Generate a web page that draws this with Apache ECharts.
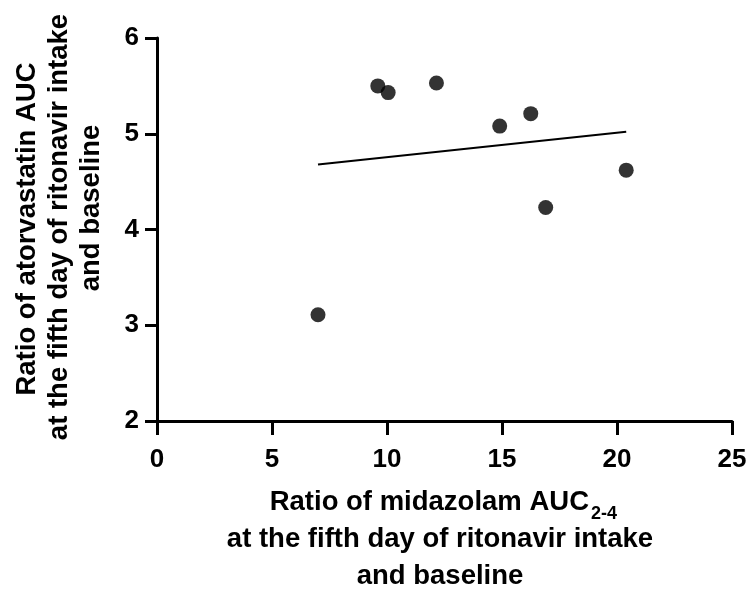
<!DOCTYPE html>
<html>
<head>
<meta charset="utf-8">
<script src="https://cdn.jsdelivr.net/npm/echarts@6/dist/echarts.min.js"></script>
<style>
html,body{margin:0;padding:0;background:#fff;}
#chart{width:751px;height:592px;}
</style>
</head>
<body>
<div id="chart"></div>
<script>
// Data
var midazolamRatio = [7.0, 9.6, 10.05, 12.15, 14.9, 16.25, 16.9, 20.4];
var atorvastatinRatio = [3.11, 5.50, 5.43, 5.53, 5.08, 5.21, 4.23, 4.62];
var fitX = [7.0, 20.4];
var fitY = [4.68, 5.02];
var xTicks = [0, 5, 10, 15, 20, 25];
var yTicks = [2, 3, 4, 5, 6];
var xTitleLines = ["Ratio of midazolam AUC", "2-4", "at the fifth day of ritonavir intake", "and baseline"];
var yTitleLines = ["Ratio of atorvastatin AUC", "at the fifth day of ritonavir intake", "and baseline"];

var points = midazolamRatio.map(function (x, i) { return [x, atorvastatinRatio[i]]; });
var fitLine = fitX.map(function (x, i) { return [x, fitY[i]]; });

var FONT = "'Liberation Sans', Arial, sans-serif";
var chart = echarts.init(document.getElementById('chart'), null, {renderer: 'canvas'});

var txt = function (text, x, y, size, align, rot) {
  return {
    type: 'text', x: x, y: y, rotation: rot || 0,
    style: {text: text, font: 'bold ' + size + 'px ' + FONT, fill: '#000',
      align: align, verticalAlign: 'middle'}
  };
};

chart.setOption({
  animation: false,
  backgroundColor: '#fff',
  grid: {left: 157, right: 19, top: 38, bottom: 171, containLabel: false},
  xAxis: {
    type: 'value', min: xTicks[0], max: xTicks[xTicks.length - 1], interval: 5,
    splitLine: {show: false},
    axisLine: {show: true, onZero: false, lineStyle: {color: '#000', width: 3}},
    axisTick: {show: true, length: 14, lineStyle: {color: '#000', width: 3}},
    axisLabel: {color: '#000', fontSize: 26, fontWeight: 'bold', fontFamily: FONT, margin: 26}
  },
  yAxis: {
    type: 'value', min: yTicks[0], max: yTicks[yTicks.length - 1], interval: 1,
    splitLine: {show: false},
    axisLine: {show: true, onZero: false, lineStyle: {color: '#000', width: 3}},
    axisTick: {show: true, length: 12, lineStyle: {color: '#000', width: 3}},
    axisLabel: {color: '#000', fontSize: 26, fontWeight: 'bold', fontFamily: FONT, margin: 18}
  },
  series: [
    {
      type: 'scatter', data: points, symbol: 'circle', symbolSize: 15,
      itemStyle: {color: '#000'}, z: 3
    },
    {
      type: 'line', data: fitLine, showSymbol: false, symbol: 'none',
      lineStyle: {color: '#000', width: 2}, z: 2
    }
  ],
  graphic: [
    txt(xTitleLines[0], 589, 502, 27.5, 'right'),
    txt(xTitleLines[1], 591, 514, 18, 'left'),
    txt(xTitleLines[2], 440, 539, 27.5, 'center'),
    txt(xTitleLines[3], 440, 576, 27.5, 'center'),
    txt(yTitleLines[0], 27, 229, 27.5, 'center', Math.PI / 2),
    txt(yTitleLines[1], 59, 227, 27.5, 'center', Math.PI / 2),
    txt(yTitleLines[2], 91, 208, 27.5, 'center', Math.PI / 2)
  ]
});
</script>
</body>
</html>
